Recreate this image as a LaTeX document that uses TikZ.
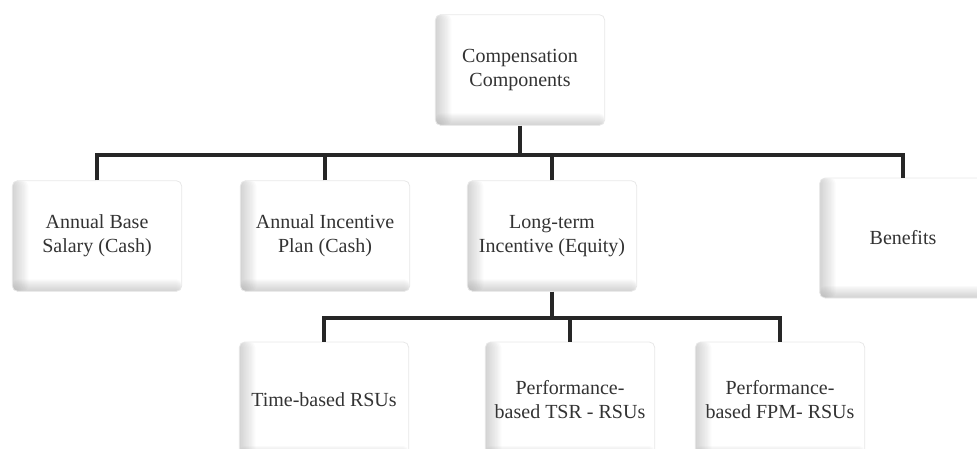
\documentclass[tikz,border=0pt]{standalone}
\usepackage{fontspec}
\setmainfont{Liberation Serif}
\usepackage{tikz}
\usepackage{xcolor}
\usetikzlibrary{positioning}

\begin{document}
\begin{tikzpicture}[
            x=0.75pt, y=-0.75pt,
            pillow/.style={
                rounded corners=4pt, fill=white, draw=gray!18, line width=0.6pt,
                align=center, text=black!80, inner sep=2pt,
                font=\fontsize{15}{18}\selectfont,
                minimum width=127pt, minimum height=83pt,
                path picture={
                    \foreach \i in {1,...,10} {
                        \fill[gray, opacity=0.035]
                            (path picture bounding box.south west) rectangle
                            ([xshift=\i*1.2pt]path picture bounding box.north west);
                        \fill[gray, opacity=0.035]
                            (path picture bounding box.south west) rectangle
                            ([yshift=\i*0.9pt]path picture bounding box.south east);
                    }
                }
            },
            link/.style={line width=3pt, draw=black!85},
        ]
            \useasboundingbox (0,0) rectangle (977,449);

            % top level
            \node[pillow] (comp) at (520,70) {Compensation\\Components};

            % second row
            \node[pillow] (salary) at (97,236) {Annual Base\\Salary (Cash)};
            \node[pillow] (aip) at (325,236) {Annual Incentive\\Plan (Cash)};
            \node[pillow] (lti) at (552,236) {Long-term\\Incentive (Equity)};
            \node[pillow, minimum width=125pt, minimum height=90pt] (benefits) at (903,238) {Benefits};

            % third row
            \node[pillow, minimum height=87pt] (time) at (324,400) {Time-based RSUs};
            \node[pillow, minimum height=87pt] (tsr) at (570,400) {Performance-\\based TSR - RSUs};
            \node[pillow, minimum height=87pt] (fpm) at (780,400) {Performance-\\based FPM- RSUs};

            \coordinate (topbar) at (520,155);
            \coordinate (lowbar) at (552,318);

            \draw[link] (comp.south) -- (topbar);
            \draw[link] (salary.north) |- (topbar) -| (benefits.north);
            \draw[link] (aip.north) -- (aip.north |- topbar);
            \draw[link] (lti.north) -- (lti.north |- topbar);

            \draw[link] (lti.south) -- (lowbar);
            \draw[link] (time.north) |- (lowbar) -| (fpm.north);
            \draw[link] (tsr.north) -- (tsr.north |- lowbar);
        \end{tikzpicture}
\end{document}
